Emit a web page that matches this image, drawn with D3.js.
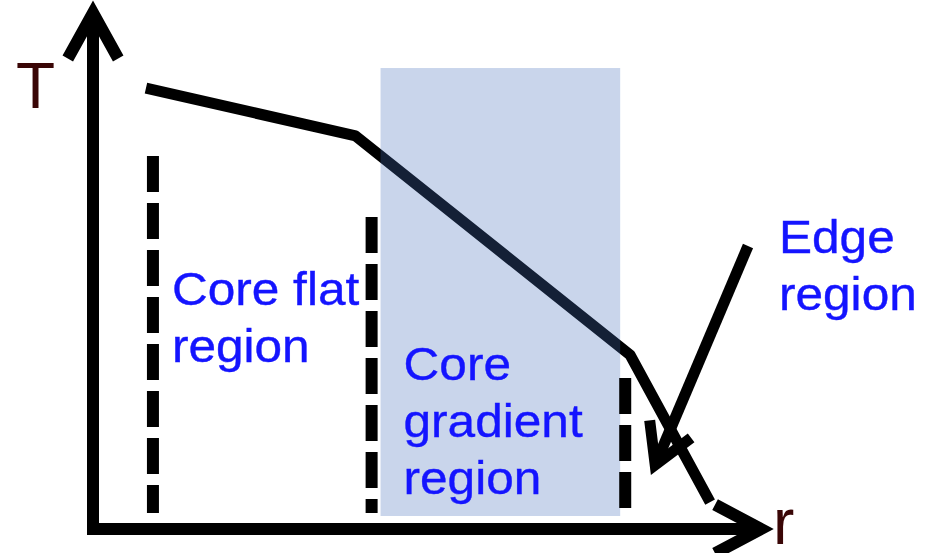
<!DOCTYPE html>
<html>
<head>
<meta charset="utf-8">
<script src="https://cdn.jsdelivr.net/npm/d3@7"></script>
<style>
  html, body { margin: 0; padding: 0; background: #fff; }
  svg { display: block; }
</style>
</head>
<body>
<svg id="chart"></svg>
<script>
// normalised radius (r) and temperature (T), 0..1 along each axis
const profileR = [0.0788, 0.3908, 0.7994, 0.9183];
const profileT = [0.848, 0.7558, 0.3346, 0.0519];

// shaded core gradient band
const bandR = [0.4279, 0.7845];
const bandT = [0.025, 0.8865];

// dashed region dividers
const dividerR = [0.0892, 0.4146, 0.792];
const dividerTop = [0.7173, 0.6, 0.2904];
const dividerBottom = [0.0308, 0.0308, 0.0308];

// region labels
const regionLines = [['Core flat', 'region'], ['Core', 'gradient', 'region'], ['Edge', 'region']];
const regionR = [0.1174, 0.4621, 1.0208];
const regionT = [0.4308, 0.2865, 0.5308];

// edge pointer arrow
const pointerR = [0.9747, 0.8366];
const pointerT = [0.5442, 0.1231];

// axis names
const axisNames = ['T', 'r'];
const axisNameR = [-0.1144, 1.0119];
const axisNameT = [0.8096, -0.029];

function drawSketch() {
    const width = 926;
    const height = 553;

    const svg = d3.select('#chart')
        .attr('width', width)
        .attr('height', height);

    const x = d3.scaleLinear().domain([0, 1]).range([93, 765]);
    const y = d3.scaleLinear().domain([0, 1]).range([529, 9]);

    // chevron arrow head at (tx, ty) pointing away from (fx, fy)
    function headPath(fx, fy, tx, ty, len, deg) {
        const ang = Math.atan2(fy - ty, fx - tx);
        const a = deg * Math.PI / 180;
        const p1 = [tx + len * Math.cos(ang - a), ty + len * Math.sin(ang - a)];
        const p2 = [tx + len * Math.cos(ang + a), ty + len * Math.sin(ang + a)];
        return `M${p1[0]},${p1[1]}L${tx},${ty}L${p2[0]},${p2[1]}`;
    }

    // temperature profile (drawn under the translucent band)
    const line = d3.line()
        .x(d => x(d[0]))
        .y(d => y(d[1]));

    svg.append('path')
        .datum(d3.zip(profileR, profileT))
        .attr('d', line)
        .attr('fill', 'none')
        .attr('stroke', '#000')
        .attr('stroke-width', 11)
        .attr('stroke-linejoin', 'round');

    svg.append('rect')
        .attr('x', x(bandR[0]))
        .attr('y', y(bandT[1]))
        .attr('width', x(bandR[1]) - x(bandR[0]))
        .attr('height', y(bandT[0]) - y(bandT[1]))
        .attr('fill', '#456eba')
        .attr('fill-opacity', 0.29);

    // dashed dividers
    svg.selectAll('.divider')
        .data(dividerR)
        .enter().append('line')
        .attr('class', 'divider')
        .attr('x1', d => x(d))
        .attr('x2', d => x(d))
        .attr('y1', (d, i) => y(dividerTop[i]))
        .attr('y2', (d, i) => y(dividerBottom[i]))
        .attr('stroke', '#000')
        .attr('stroke-width', 12)
        .attr('stroke-dasharray', '36,11');

    // axes
    const axisStyle = sel => sel
        .attr('fill', 'none')
        .attr('stroke', '#000')
        .attr('stroke-width', 12);

    svg.append('line')
        .attr('x1', x(0)).attr('y1', y(0) + 6)
        .attr('x2', x(0)).attr('y2', y(1) + 4)
        .call(axisStyle);
    svg.append('path')
        .attr('d', headPath(x(0), y(0), x(0), y(1) + 4, 52, 29))
        .call(axisStyle)
        .attr('stroke-linejoin', 'miter');

    svg.append('line')
        .attr('x1', x(0) - 6).attr('y1', y(0))
        .attr('x2', x(1) - 4).attr('y2', y(0))
        .call(axisStyle);
    svg.append('path')
        .attr('d', headPath(x(0), y(0), x(1) - 4, y(0), 52, 28))
        .call(axisStyle)
        .attr('stroke-linejoin', 'miter');

    // edge pointer
    svg.append('line')
        .attr('x1', x(pointerR[0])).attr('y1', y(pointerT[0]))
        .attr('x2', x(pointerR[1])).attr('y2', y(pointerT[1]))
        .call(axisStyle)
        .attr('stroke-width', 11);
    svg.append('path')
        .attr('d', headPath(x(pointerR[0]), y(pointerT[0]), x(pointerR[1]), y(pointerT[1]), 45, 30))
        .call(axisStyle)
        .attr('stroke-width', 11)
        .attr('stroke-linejoin', 'miter');

    // region labels (slightly wide lettering, as in the original)
    regionLines.forEach((lines, i) => {
        const t = svg.append('text')
            .attr('transform', `translate(${x(regionR[i])},${y(regionT[i])}) scale(1.055,1)`)
            .style('font-family', 'Liberation Sans, Arial, sans-serif')
            .style('font-size', '47px')
            .attr('fill', '#1414ff')
            .attr('stroke', '#1414ff')
            .attr('stroke-width', 0.4);
        lines.forEach((s, j) => {
            t.append('tspan')
                .attr('x', 0)
                .attr('dy', j === 0 ? 0 : 57)
                .text(s);
        });
    });

    // axis names
    svg.selectAll('.axis-name')
        .data(axisNames)
        .enter().append('text')
        .attr('class', 'axis-name')
        .attr('x', (d, i) => x(axisNameR[i]))
        .attr('y', (d, i) => y(axisNameT[i]))
        .style('font-family', 'Liberation Sans, Arial, sans-serif')
        .style('font-size', '64px')
        .attr('fill', '#3a0606')
        .text(d => d);
}

window.addEventListener('load', drawSketch);
</script>
</body>
</html>
